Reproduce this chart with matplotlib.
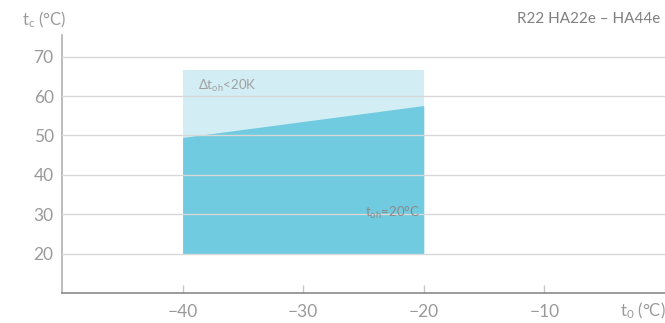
import matplotlib
matplotlib.use("Agg")
import matplotlib.pyplot as plt

plt.rcParams['font.family'] = ['Lato', 'DejaVu Sans']
plt.rcParams['mathtext.fontset'] = 'custom'
plt.rcParams['mathtext.rm'] = 'Lato'
plt.rcParams['mathtext.it'] = 'Lato'
plt.rcParams['mathtext.default'] = 'regular'

# envelope (evaporating temp vs condensing temp)
t0 = [-40, -20]
tc_upper = [66.5, 66.5]
tc_lower = [20, 20]
tc_sh20 = [49.5, 57.6]

xticks = [-40, -30, -20, -10]
yticks = [20, 30, 40, 50, 60, 70]

grey = '#9a9a9a'
light = '#d3edf4'
dark = '#70cbe0'

fig = plt.figure(figsize=(6.65, 3.23), dpi=100)
ax = fig.add_axes([62 / 665, 30 / 323, 1 - 62 / 665, 258 / 323])

ax.fill_between(t0, tc_lower, tc_upper, color=light, lw=0, zorder=1)
ax.fill_between(t0, tc_lower, tc_sh20, color=dark, lw=0, zorder=2)

for y in yticks:
    ax.axhline(y, color='#d8d8d8', lw=1, zorder=3)

ax.set_xlim(-50, 0)
ax.set_ylim(10, 75.5)
ax.set_xticks(xticks)
ax.set_yticks(yticks)
ax.set_xticklabels(['\u2212' + str(abs(v)) for v in xticks])
ax.tick_params(axis='x', direction='in', length=6, color='#c8c8c8', width=1,
               labelsize=12.5, labelcolor=grey, pad=8)
ax.tick_params(axis='y', length=0, labelsize=12.5, labelcolor=grey, pad=6)

for s in ['top', 'right']:
    ax.spines[s].set_visible(False)
ax.spines['left'].set_color('#b0b0b0')
ax.spines['bottom'].set_color('#8a8a8a')
ax.spines['left'].set_linewidth(1.2)
ax.spines['bottom'].set_linewidth(1.2)

ax.text(-38.7, 61.5, r'$\Delta t_{oh}$<20K', fontsize=9.5, color='#a0a0a0',
        zorder=4)
ax.text(-24.9, 29.3, r'$t_{oh}$=20°C', fontsize=9.5, color='#8a8a8a',
        zorder=4)

fig.text(22 / 665, 1 - 20 / 323, r'$t_c$ (°C)', fontsize=12, color=grey,
         va='center')
fig.text(620 / 665, 1 - 311 / 323, r'$t_0$ (°C)', fontsize=12, color=grey,
         va='center')
fig.text(660 / 665, 1 - 19 / 323, 'R22 HA22e \u2013 HA44e', fontsize=11,
         color='#808080', ha='right', va='center')

fig.savefig('out.png', dpi=100)
